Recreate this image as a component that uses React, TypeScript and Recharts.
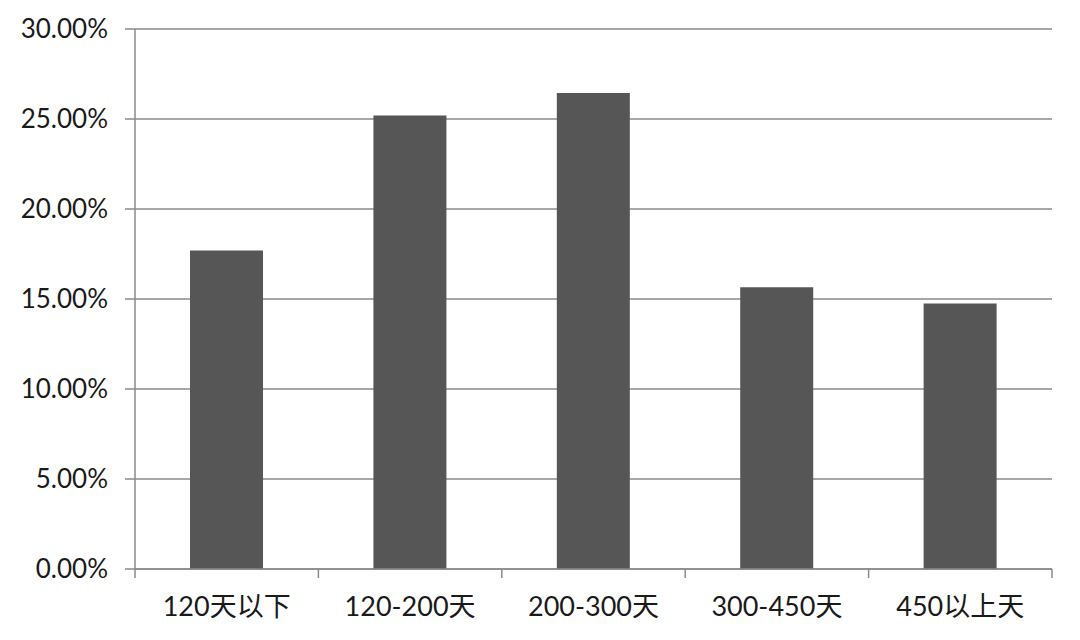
import { BarChart, Bar, XAxis, YAxis, CartesianGrid } from "recharts";

const categories = ["120天以下", "120-200天", "200-300天", "300-450天", "450以上天"];
const shares = [17.7, 25.2, 26.45, 15.65, 14.75];
const yTicks = [0, 5, 10, 15, 20, 25, 30];

const data = categories.map((name, i) => ({ name, share: shares[i] }));

const font = "Lato, 'Noto Sans CJK SC', sans-serif";
const lineColor = "#8a8a8a";
const CAT_W = (1052 - 135) / categories.length;

function CategoryTick(props: any) {
  const { x, y, payload, index } = props;
  const left = x - CAT_W / 2;
  return (
    <g>
      <line x1={left} y1={y - 8} x2={left} y2={y + 1} stroke={lineColor} strokeWidth={1.5} />
      {index === categories.length - 1 && (
        <line x1={left + CAT_W} y1={y - 8} x2={left + CAT_W} y2={y + 1} stroke={lineColor} strokeWidth={1.5} />
      )}
      <text x={x} y={y + 39} textAnchor="middle" fontSize={27} fill="#1a1a1a" fontFamily={font}>
        {payload.value}
      </text>
    </g>
  );
}

export default function App() {
  return (
    <div style={{ position: "absolute", left: 0, top: 0, width: 1080, height: 640, background: "#fff" }}>
      <BarChart
        width={1080}
        height={640}
        data={data}
        margin={{ top: 29, right: 28, left: 0, bottom: 0 }}
        barCategoryGap="30%"
      >
        <CartesianGrid vertical={false} stroke={lineColor} strokeWidth={1.5} />
        <XAxis
          dataKey="name"
          height={71}
          tick={<CategoryTick />}
          tickLine={false}
          axisLine={{ stroke: lineColor, strokeWidth: 1.5 }}
          interval={0}
        />
        <YAxis
          width={135}
          domain={[0, 30]}
          ticks={yTicks}
          tickFormatter={(v: number) => `${v.toFixed(2)}%`}
          tick={{ fontSize: 26, fill: "#1a1a1a", fontFamily: font }}
          tickSize={10}
          tickMargin={17}
          tickLine={{ stroke: lineColor, strokeWidth: 1.5 }}
          axisLine={{ stroke: lineColor, strokeWidth: 1.5 }}
        />
        <Bar dataKey="share" fill="#565656" isAnimationActive={false} />
      </BarChart>
    </div>
  );
}
